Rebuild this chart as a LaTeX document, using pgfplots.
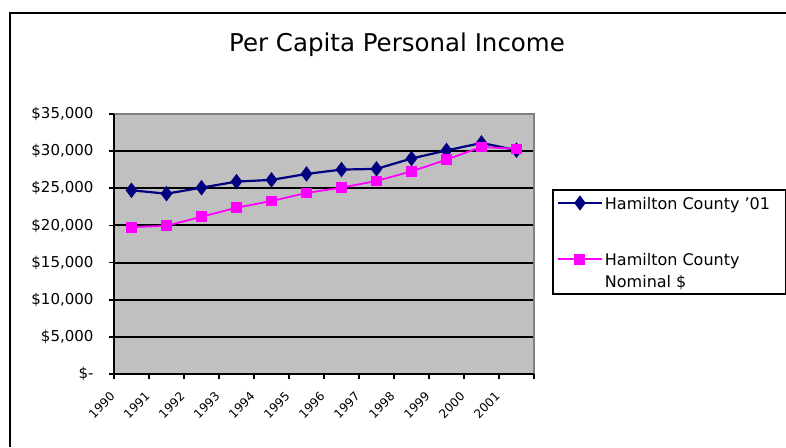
\documentclass[border=0pt]{standalone}
\usepackage{fontspec}
\setmainfont{DejaVu Sans}
\usepackage{pgfplots}
\pgfplotsset{compat=1.18}

\definecolor{navyline}{RGB}{0,0,128}
\definecolor{magline}{RGB}{255,0,255}
\definecolor{plotbg}{RGB}{192,192,192}
\definecolor{edgegray}{RGB}{128,128,128}

\pgfplotstableread{
x  real    nominal
0  24730   19770
1  24270   19950
2  25080   21170
3  25900   22380
4  26130   23290
5  26930   24370
6  27520   25090
7  27610   25990
8  29010   27280
9  30090   28860
10 31100   30570
11 30130   30300
}\income

\begin{document}
\begin{tikzpicture}
\useasboundingbox (0pt,0pt) rectangle (786pt,447pt);
\draw[line width=2pt] (10pt,0pt) -- (10pt,434pt) -- (786pt,434pt);
\node[anchor=base, font=\fontsize{24.5}{28}\selectfont] at (397pt,395pt) {Per Capita Personal Income};
\begin{axis}[
    at={(114pt,73pt)}, anchor=south west,
    scale only axis,
    width=420pt, height=260pt,
    xmin=-0.5, xmax=11.5,
    ymin=0, ymax=35000,
    scaled y ticks=false,
    axis background/.style={fill=plotbg},
    axis line style={draw=none},
    xtick pos=bottom, ytick pos=left,
    xtick={-0.5,0.5,...,11.5},
    xticklabels={1990,1991,1992,1993,1994,1995,1996,1997,1998,1999,2000,2001,{}},
    xticklabel style={xshift=1pt, yshift=-13pt, rotate=45, anchor=east, font=\fontsize{12}{14}\selectfont},
    ytick={0,5000,...,35000},
    yticklabels={{\$-\hspace{19pt}},{\$5,000},{\$10,000},{\$15,000},{\$20,000},{\$25,000},{\$30,000},{\$35,000}},
    yticklabel style={font=\fontsize{15}{17}\selectfont, xshift=-12pt},
    tick align=outside,
    major tick length=5pt,
    tick style={black, line width=1.8pt},
    ymajorgrids,
    major grid style={black, line width=2pt},
    clip=false,
    legend style={at={(1.043,0.7115)}, anchor=north west, draw=black, line width=1.8pt,
        font=\fontsize{16}{22}\selectfont, row sep=40pt,
        inner xsep=4pt, inner ysep=5pt,
        nodes={align=left, text depth=0pt}},
    legend cell align=left,
    legend image code/.code={
        \draw[mark repeat=2, mark phase=2, line width=2pt] plot coordinates {(0pt,0pt) (22pt,0pt) (44pt,0pt)};},
]
\draw[edgegray, line width=2.5pt] (axis cs:-0.5,35000) -- (axis cs:11.5,35000) -- (axis cs:11.5,0);
\draw[black, line width=2.2pt] (axis cs:-0.5,35000) -- (axis cs:-0.5,0) -- (axis cs:11.5,0);
\addplot[navyline, line width=2.2pt, mark=diamond*, mark size=6pt, mark options={solid}] table[x=x, y=real] {\income};
\addlegendentry{Hamilton County ’01\hspace{10pt}}
\addplot[magline, line width=1.8pt, mark=square*, mark size=4.5pt, mark options={solid, fill=magline, draw=magline},
    legend image post style={yshift=11pt}] table[x=x, y=nominal] {\income};
\addlegendentry{Hamilton County\\Nominal \$}
\end{axis}
\end{tikzpicture}
\end{document}
